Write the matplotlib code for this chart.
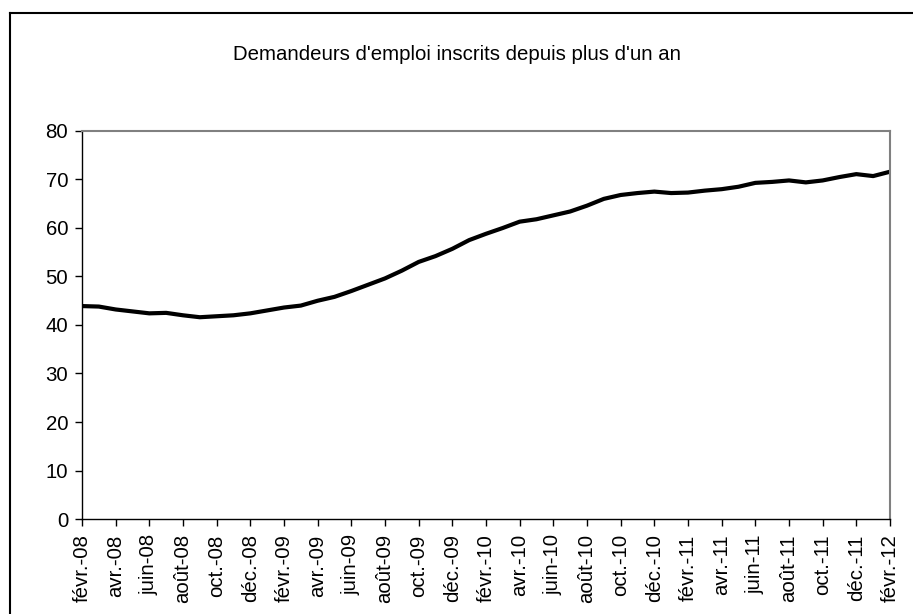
import numpy as np
import matplotlib
matplotlib.use("Agg")
import matplotlib.pyplot as plt
from matplotlib.lines import Line2D

plt.rcParams['font.family'] = ['Liberation Sans', 'DejaVu Sans']

TITLE = "Demandeurs d'emploi inscrits depuis plus d'un an"

# monthly values, févr.-08 .. févr.-12
values = [
    43.9, 43.8, 43.2, 42.8, 42.4, 42.5, 42.0, 41.6, 41.8, 42.0, 42.4,
    43.0, 43.6, 44.0, 45.0, 45.8, 47.0, 48.3, 49.6, 51.2, 53.0, 54.2, 55.7,
    57.5, 58.8, 60.0, 61.3, 61.8, 62.6, 63.4, 64.6, 66.0, 66.8, 67.2, 67.5,
    67.2, 67.3, 67.7, 68.0, 68.5, 69.3, 69.5, 69.8, 69.4, 69.8, 70.5, 71.1,
    70.7, 71.6,
]
tick_labels = [
    "févr.-08", "avr.-08", "juin-08", "août-08", "oct.-08", "déc.-08",
    "févr.-09", "avr.-09", "juin-09", "août-09", "oct.-09", "déc.-09",
    "févr.-10", "avr.-10", "juin-10", "août-10", "oct.-10", "déc.-10",
    "févr.-11", "avr.-11", "juin-11", "août-11", "oct.-11", "déc.-11",
    "févr.-12",
]
y_ticks = [0, 10, 20, 30, 40, 50, 60, 70, 80]

FS = 14.7

fig = plt.figure(figsize=(9.13, 6.14), dpi=100)
ax = fig.add_axes([0.0898, 0.1547, 0.885, 0.632])

x = np.arange(len(values))
ax.plot(x, values, color='black', linewidth=3, solid_joinstyle='round')

ax.set_xlim(0, len(values) - 1)
ax.set_ylim(0, 80)
ax.set_xticks(x[::2])
ax.set_xticklabels(tick_labels, rotation=90, fontsize=FS)
ax.set_yticks(y_ticks)
ax.tick_params(axis='y', labelsize=FS, length=5, width=1, direction='out', pad=5)
ax.tick_params(axis='x', length=5, width=1, direction='out', pad=6)

for side in ('top', 'right'):
    ax.spines[side].set_color('#808080')
    ax.spines[side].set_linewidth(1.5)
for side in ('left', 'bottom'):
    ax.spines[side].set_color('black')
    ax.spines[side].set_linewidth(1)

fig.text(0.5, 1 - 55 / 614, TITLE, ha='center', va='center', fontsize=FS)

# chart area border (partly cut off at right and bottom)
bx = 9.5 / 913
by = 1 - 12.5 / 614
fig.add_artist(Line2D([bx, bx], [0, by], color='black', linewidth=1.5))
fig.add_artist(Line2D([bx, 1], [by, by], color='black', linewidth=1.5))

fig.savefig('out.png', dpi=100)
